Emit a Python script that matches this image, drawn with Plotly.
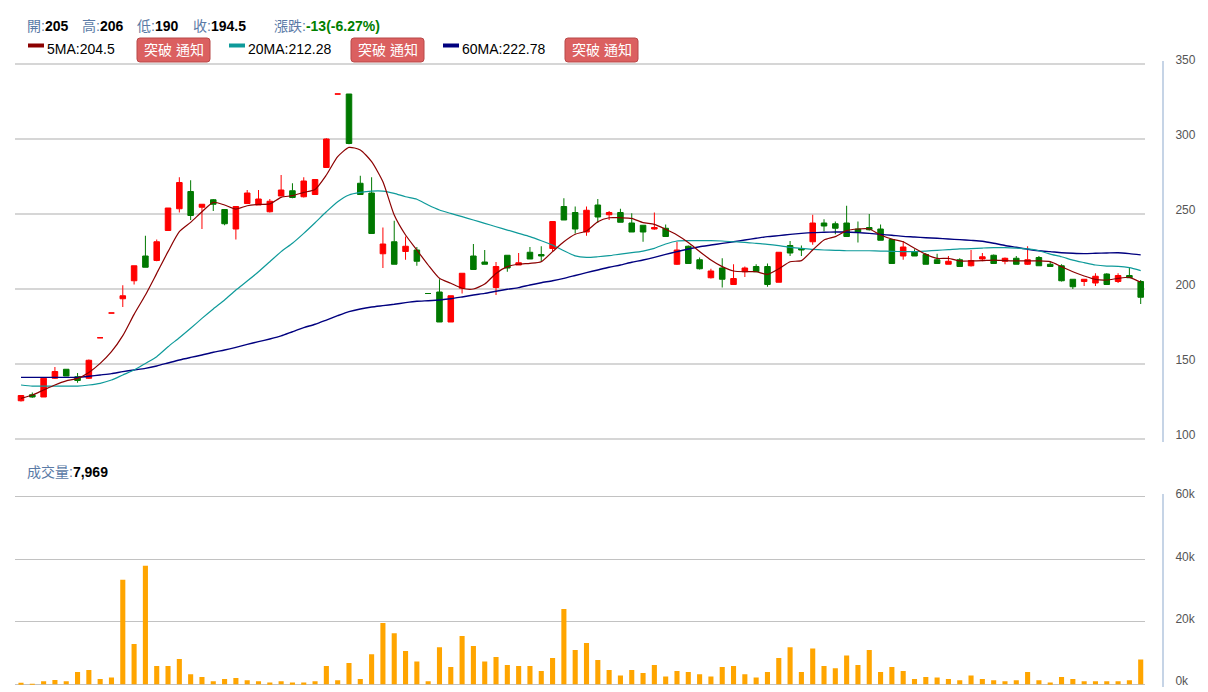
import plotly.graph_objects as go

# ---------------- data ----------------
opens = [125.5, 129.5, 128, 140.5, 146.5, 141.5, 140.5, 167.5, 184, 193.5,
         205.5, 222, 219, 239, 253.5, 265, 254.5, 259.5, 253, 240,
         257, 256, 251.5, 262, 265.5, 261.5, 263, 281, 330, 330,
         270.5, 264, 223.5, 231.5, 225, 226, 197, 198, 178, 200.5,
         222, 218, 201, 222.5, 216, 224.5, 223, 227, 255, 251,
         238, 256, 249.5, 251, 244, 242.5, 240, 240.5, 216.5, 228.5,
         219.5, 207.5, 214, 203, 211.5, 215, 215, 204.5, 229, 227,
         231.5, 244, 243.5, 244, 240, 241, 240, 233, 222, 225,
         223, 219.5, 216.5, 219.5, 215.5, 220, 222.5, 218.5, 220.5, 216.5,
         221, 216.5, 215.5, 206.5, 205, 204, 210, 205, 209, 205]
highs = [129, 131, 141, 148, 146.5, 144, 153, 167.5, 184, 202.5,
         215.5, 235.5, 233, 254, 274.5, 272.5, 256.5, 260, 253, 255,
         266, 266, 260, 276, 270.5, 274.5, 273, 300.5, 330, 330,
         275.5, 274.5, 241, 245.5, 235, 228, 197, 206.5, 195.5, 210.5,
         230, 226, 218, 222.5, 224, 228, 228.5, 245, 260.5, 255,
         255, 260, 252, 253.5, 250.5, 242.5, 251, 243, 231.5, 229,
         221, 213.5, 220.5, 216.5, 215, 216.5, 217, 224.5, 232, 229,
         249.5, 246.5, 245, 255.5, 245, 250, 243, 233, 232, 226.5,
         224, 223.5, 222, 220.5, 226, 224, 223, 221, 222, 228.5,
         222, 218.5, 216.5, 206.5, 206.5, 210.5, 210.5, 210.5, 214, 206]
lows = [125, 127.5, 128, 140, 142, 137.5, 140, 167.5, 184, 188,
        203, 214.5, 218.5, 239, 251, 246, 240, 252, 242.5, 233,
        257, 256, 251, 262, 260.5, 261, 263, 281, 330, 296.5,
        263, 237, 214, 216.5, 219.5, 215.5, 197, 178, 178, 197,
        213, 216.5, 196, 211.5, 216, 220, 218, 225, 246, 237,
        235.5, 244, 246, 244.5, 238, 231.5, 239.5, 235, 216, 217,
        213, 207, 201, 203, 208, 211.5, 201.5, 204.5, 222, 222,
        229.5, 238.5, 236.5, 235, 231, 239, 232.5, 217, 219.5, 222,
        216.5, 217, 216.5, 215, 215, 218.5, 217, 216.5, 216.5, 216,
        215.5, 215, 205, 200, 202, 202, 203, 204, 207.5, 190]
closes = [129, 128, 140.5, 145, 142, 139, 152.5, 167.5, 184, 195.5,
          215.5, 214.5, 231.5, 254, 271, 249, 256.5, 256.5, 243.5, 255,
          264, 260, 258.5, 266, 261, 272, 273, 300, 330, 297,
          263, 237, 230, 216.5, 228.5, 218.5, 197, 178, 195.5, 210.5,
          213, 216.5, 215, 214, 217.5, 220, 222, 245, 246, 240,
          252.5, 248, 251, 244.5, 238, 238, 241, 235, 226, 217,
          213.5, 212, 206.5, 207, 214, 211.5, 203, 224.5, 224, 226,
          244, 242, 240.5, 235, 238, 239.5, 232.5, 217, 228, 222,
          216.5, 217, 218.5, 215, 219, 221.5, 217, 220.5, 216.5, 219.5,
          215.5, 215, 205.5, 201.5, 206.5, 208.5, 203, 209, 207.5, 194.5]
volumes = [250, 150, 960, 1387, 960, 3947, 4587, 1707, 2133, 33493,
           12907, 37973, 5867, 5867, 8107, 3200, 2347, 960, 1707, 2027,
           1280, 960, 533, 960, 533, 533, 960, 5867, 1280, 6827,
           1707, 9600, 19627, 16320, 10667, 7253, 960, 11840, 5547, 15467,
           12267, 7253, 8747, 6187, 5867, 5867, 4267, 8427, 24107, 10987,
           13227, 7787, 4587, 2773, 4587, 3627, 6187, 2453, 4267, 3947,
           3200, 2453, 5547, 5867, 3200, 2133, 3947, 8427, 11840, 3947,
           11413, 5867, 5120, 9173, 6187, 10987, 3947, 5547, 4267, 1707,
           2347, 2133, 1707, 1280, 2773, 1707, 1280, 960, 1280, 3947,
           1280, 533, 2347, 1707, 960, 960, 960, 960, 1280, 7969]
ma5 = [127.1, 129.3, 132.7, 136, 138.7, 140.4, 144.4, 150.4, 158.2, 168.9,
       183.1, 196, 210.4, 224.9, 238.2, 244.4, 251.5, 257.8, 256, 253.3,
       255.5, 256.4, 256.7, 261.1, 262.2, 264.4, 266.4, 276, 288.2, 294.4,
       292.7, 284.9, 271.5, 249.3, 236, 226, 216, 207.1, 203.8, 200.5,
       200, 203.3, 210.4, 214.9, 216.5, 217.1, 218.2, 224.9, 231.5, 236.5,
       238.7, 244.9, 247.5, 247.5, 247.1, 244.2, 243.1, 239.8, 236, 231,
       225, 219.3, 214.9, 212, 211.5, 211.5, 209.8, 213.5, 218.2, 218.9,
       226, 232.7, 234.9, 238.9, 240, 240, 236, 233.3, 231.5, 227.1,
       223.1, 220.4, 220.4, 218.7, 218.7, 218.9, 219.3, 218.9, 218.7, 218.7,
       218.7, 218.2, 214.9, 211.5, 208.7, 206.4, 206, 207.1, 207.8, 204.5]
ma20 = [136, 135.3, 135.3, 135.3, 135.3, 135.3, 136, 137.1, 139.3, 142.7,
        146, 150.4, 154.9, 161.5, 167.5, 173.8, 180.4, 186.7, 192.7, 199.3,
        205.3, 211.5, 218.2, 224.9, 230.5, 237.1, 244.2, 251.5, 258.2, 262.7,
        264.4, 265.3, 265.3, 263.8, 261.5, 259.8, 256, 252.7, 250.4, 248.2,
        246, 243.8, 241.5, 239.3, 237.1, 234.9, 232.2, 229.3, 225.5, 222.1,
        221.1, 221.5, 222.2, 223.3, 224.2, 225.3, 227.1, 230, 232, 232.2,
        232.2, 232.2, 232, 231.5, 231.1, 230.4, 229.8, 228.9, 227.8, 227.1,
        226.4, 226, 225.8, 225.5, 225.5, 225.5, 225.3, 225.1, 224.9, 224.9,
        225.3, 225.8, 226.2, 226.7, 226.9, 227.3, 227.6, 227.6, 227.3, 226.7,
        225.5, 223.3, 221.5, 219.3, 217.6, 216, 215.3, 215.1, 214.2, 212.28]
ma60 = [141.1, 141.1, 141.1, 141.1, 141.1, 141.1, 141.8, 142.7, 143.6, 144.9,
        146, 147.1, 148.7, 150.7, 152.7, 154.4, 156, 157.8, 159.3, 161.1,
        163.1, 164.9, 166.7, 168.7, 171.5, 174.2, 176.5, 179.3, 182.2, 184.9,
        186.7, 188, 188.9, 189.8, 190.9, 191.8, 192.2, 192.7, 193.5, 194.7,
        196, 197.1, 198.5, 199.8, 200.9, 202.7, 204.2, 205.5, 207.1, 209,
        210.9, 212.7, 214.5, 216, 217.8, 219.3, 221.1, 223.1, 224.9, 226.7,
        228.2, 229.3, 230.4, 231.5, 232.7, 233.8, 234.9, 235.6, 236.4, 237.1,
        237.6, 237.8, 238, 238, 237.6, 237.1, 236.4, 235.8, 235.1, 234.7,
        234.2, 233.8, 233.3, 232.9, 232.4, 231.8, 230.5, 229, 227.8, 226.5,
        225.5, 224.9, 224.2, 223.8, 223.6, 223.8, 224, 224.2, 223.6, 222.78]
price_ticks = [100, 150, 200, 250, 300, 350]
vol_ticks = [0, 20000, 40000, 60000]
vol_tick_labels = ["0k", "20k", "40k", "60k"]

# ---------------- layout helpers ----------------
W, H = 1208, 692
ML, MR = 15, 40
PW = W - ML - MR


def fx(px):
    return (px - ML) / PW


def fy(py):
    return (H - py) / H


FONT = "Liberation Sans, Arial, Noto Sans CJK TC, sans-serif"
LABEL = "#5a7aa6"
TXT = 14
idx = list(range(len(closes)))

fig = go.Figure()
fig.add_trace(go.Candlestick(
    x=idx, open=opens, high=highs, low=lows, close=closes,
    increasing=dict(line=dict(color="#ff0000", width=1), fillcolor="#ff0000"),
    decreasing=dict(line=dict(color="#007800", width=1), fillcolor="#007800"),
    whiskerwidth=0, xaxis="x", yaxis="y", showlegend=False, hoverinfo="skip"))
for arr, col, w in [(ma60, "#00007f", 1.4), (ma20, "#0e9a9a", 1.2), (ma5, "#8b0000", 1.2)]:
    fig.add_trace(go.Scatter(x=idx, y=arr, mode="lines",
                             line=dict(color=col, width=w, shape="spline", smoothing=0.6),
                             xaxis="x", yaxis="y", showlegend=False, hoverinfo="skip"))
fig.add_trace(go.Bar(x=idx, y=volumes, xaxis="x2", yaxis="y2", width=0.45,
                     marker=dict(color="#ffa500", line=dict(width=0)),
                     showlegend=False, hoverinfo="skip"))

xr = [-0.53, len(closes) - 1 + 0.38]
axis_common = dict(side="right", anchor="free", position=fx(1163), showline=True,
                   linecolor="#c6d4e6", linewidth=2, ticks="", ticklabelstandoff=9,
                   tickfont=dict(color="#555555", size=12, family=FONT),
                   zeroline=False, fixedrange=True, automargin=False)
# price axis: 1.5 px per unit, 350 at y=64, 100 at y=439; volume: 20k per 62.5 px, 0 at y=684.3
fig.update_layout(
    width=W, height=H, margin=dict(l=ML, r=MR, t=0, b=0, autoexpand=False),
    paper_bgcolor="white", plot_bgcolor="white", showlegend=False,
    xaxis=dict(domain=[0, fx(1145)], range=xr, visible=False, automargin=False,
               rangeslider=dict(visible=False)),
    xaxis2=dict(domain=[0, fx(1145)], range=xr, visible=False, anchor="y2", automargin=False),
    yaxis=dict(domain=[fy(442), fy(61)], range=[98, 352], tickvals=price_ticks,
               gridcolor="#d6d6d6", gridwidth=1.5, ticklabelshift=-4, **axis_common),
    yaxis2=dict(domain=[fy(687.4), fy(493.7)], range=[-1000, 61000], tickvals=vol_ticks,
                ticktext=vol_tick_labels, gridcolor="#c2c2c2", gridwidth=1, ticklabelshift=-3,
                **axis_common),
)

ann = []


def add_text(px, py, text, size=TXT):
    ann.append(dict(x=fx(px), y=fy(py), xref="paper", yref="paper", text=text,
                    showarrow=False, xanchor="left", yanchor="middle",
                    font=dict(family=FONT, size=size, color="black")))


def fmt(v):
    return ("%g" % v)


chg = closes[-1] - closes[-2]
pct = chg / closes[-2] * 100
add_text(25, 26, f"<span style='color:{LABEL}'>開:</span><b>{fmt(opens[-1])}</b>")
add_text(80, 26, f"<span style='color:{LABEL}'>高:</span><b>{fmt(highs[-1])}</b>")
add_text(135, 26, f"<span style='color:{LABEL}'>低:</span><b>{fmt(lows[-1])}</b>")
add_text(191, 26, f"<span style='color:{LABEL}'>收:</span><b>{fmt(closes[-1])}</b>")
add_text(272, 26, f"<span style='color:{LABEL}'>漲跌:</span><b><span style='color:#008000'>{fmt(chg)}({pct:.2f}%)</span></b>")
add_text(25, 472, f"<span style='color:{LABEL}'>成交量:</span><b>{volumes[-1]:,}</b>")

shapes = []
legend_items = [("5MA", ma5[-1], "#8b0000", 28, 137),
                ("20MA", ma20[-1], "#0e9a9a", 229, 351),
                ("60MA", ma60[-1], "#00007f", 443, 565)]
for name, val, col, sx, bx in legend_items:
    shapes.append(dict(type="rect", xref="paper", yref="paper", x0=fx(sx), x1=fx(sx + 16),
                       y0=fy(47.5), y1=fy(43.5), fillcolor=col, line=dict(width=0)))
    add_text(sx + 17, 49, f"{name}:{fmt(val)}")
    x0, x1, y0, y1, r = bx, bx + 73, 38, 62, 3
    path = (f"M {fx(x0 + r)} {fy(y0)} L {fx(x1 - r)} {fy(y0)} Q {fx(x1)} {fy(y0)} {fx(x1)} {fy(y0 + r)} "
            f"L {fx(x1)} {fy(y1 - r)} Q {fx(x1)} {fy(y1)} {fx(x1 - r)} {fy(y1)} "
            f"L {fx(x0 + r)} {fy(y1)} Q {fx(x0)} {fy(y1)} {fx(x0)} {fy(y1 - r)} "
            f"L {fx(x0)} {fy(y0 + r)} Q {fx(x0)} {fy(y0)} {fx(x0 + r)} {fy(y0)} Z")
    shapes.append(dict(type="path", xref="paper", yref="paper", path=path,
                       fillcolor="#db6060", line=dict(color="#b84848", width=1)))
    ann.append(dict(x=fx(bx + 36.5), y=fy(50), xref="paper", yref="paper", text="突破 通知",
                    showarrow=False, xanchor="center", yanchor="middle",
                    font=dict(family=FONT, size=TXT, color="white")))

fig.update_layout(annotations=ann, shapes=shapes)
fig.write_html("out.html", config={"displayModeBar": False},
               post_script="document.body.style.margin='0';")
